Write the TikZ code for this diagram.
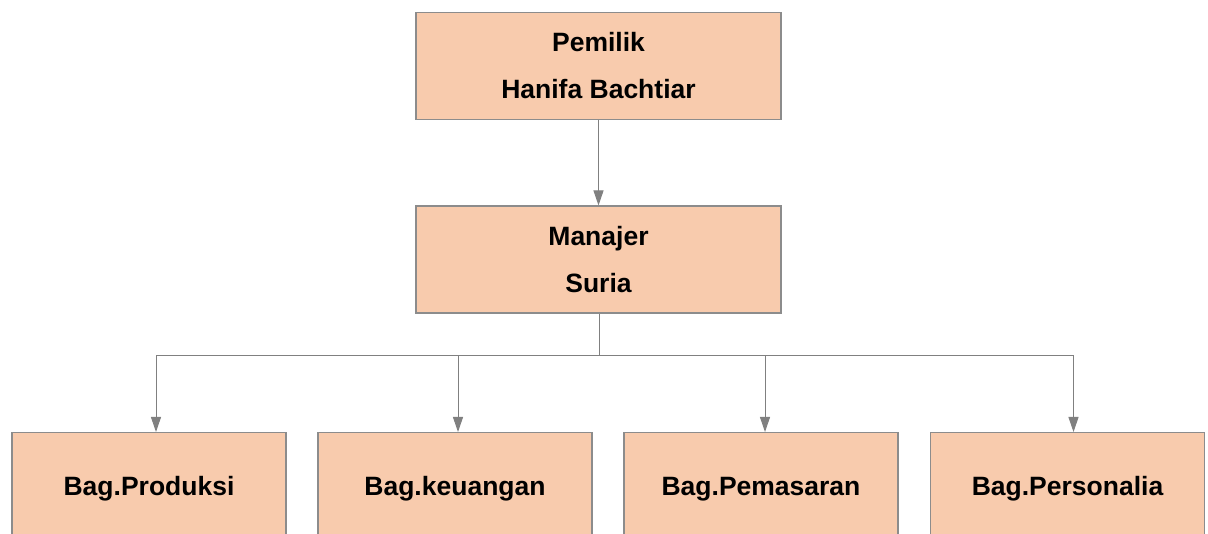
\documentclass[tikz,border=0pt]{standalone}
\usepackage{fontspec}
\setmainfont{Liberation Sans}
\usetikzlibrary{arrows.meta}
\definecolor{boxfill}{HTML}{F8CBAD}
\definecolor{boxline}{HTML}{8C8C8C}
\definecolor{conn}{HTML}{808080}
\tikzset{
  orgbox/.style={draw=boxline, line width=1.1pt, fill=boxfill, inner sep=0pt,
    align=center, font=\fontsize{26.5}{47}\selectfont\bfseries},
  topbox/.style={orgbox, minimum width=365pt, minimum height=107pt},
  bagbox/.style={orgbox, minimum width=274pt, minimum height=112pt, anchor=north,
    text height=19pt, text depth=6pt},
  link/.style={draw=conn, line width=1pt},
  arr/.style={link, -{Triangle[length=15pt,width=10pt]}}
}
\begin{document}
\begin{tikzpicture}[x=1pt,y=-1pt]
\clip (0,0) rectangle (1208,534);
\fill[white] (0,0) rectangle (1208,534);
\node[topbox] (own) at (598.5,66) {Pemilik\\Hanifa Bachtiar};
\node[topbox] (mgr) at (598.5,259.5) {Manajer\\Suria};
\node[bagbox] (b1) at (149,432) {Bag.Produksi};
\node[bagbox] (b2) at (455,432) {Bag.keuangan};
\node[bagbox] (b3) at (761,432) {Bag.Pemasaran};
\node[bagbox] (b4) at (1067.5,432) {Bag.Personalia};
\coordinate (bus) at (599,356);
\coordinate (d1) at (156,356);
\coordinate (d2) at (458,356);
\coordinate (d3) at (765,356);
\coordinate (d4) at (1073.5,356);
\draw[arr] (own.south) -- (mgr.north);
\draw[link] (mgr.south -| bus) -- (bus);
\draw[link] (d1) -- (d4);
\draw[arr] (d1) -- (d1 |- b1.north);
\draw[arr] (d2) -- (d2 |- b2.north);
\draw[arr] (d3) -- (d3 |- b3.north);
\draw[arr] (d4) -- (d4 |- b4.north);
\end{tikzpicture}
\end{document}
